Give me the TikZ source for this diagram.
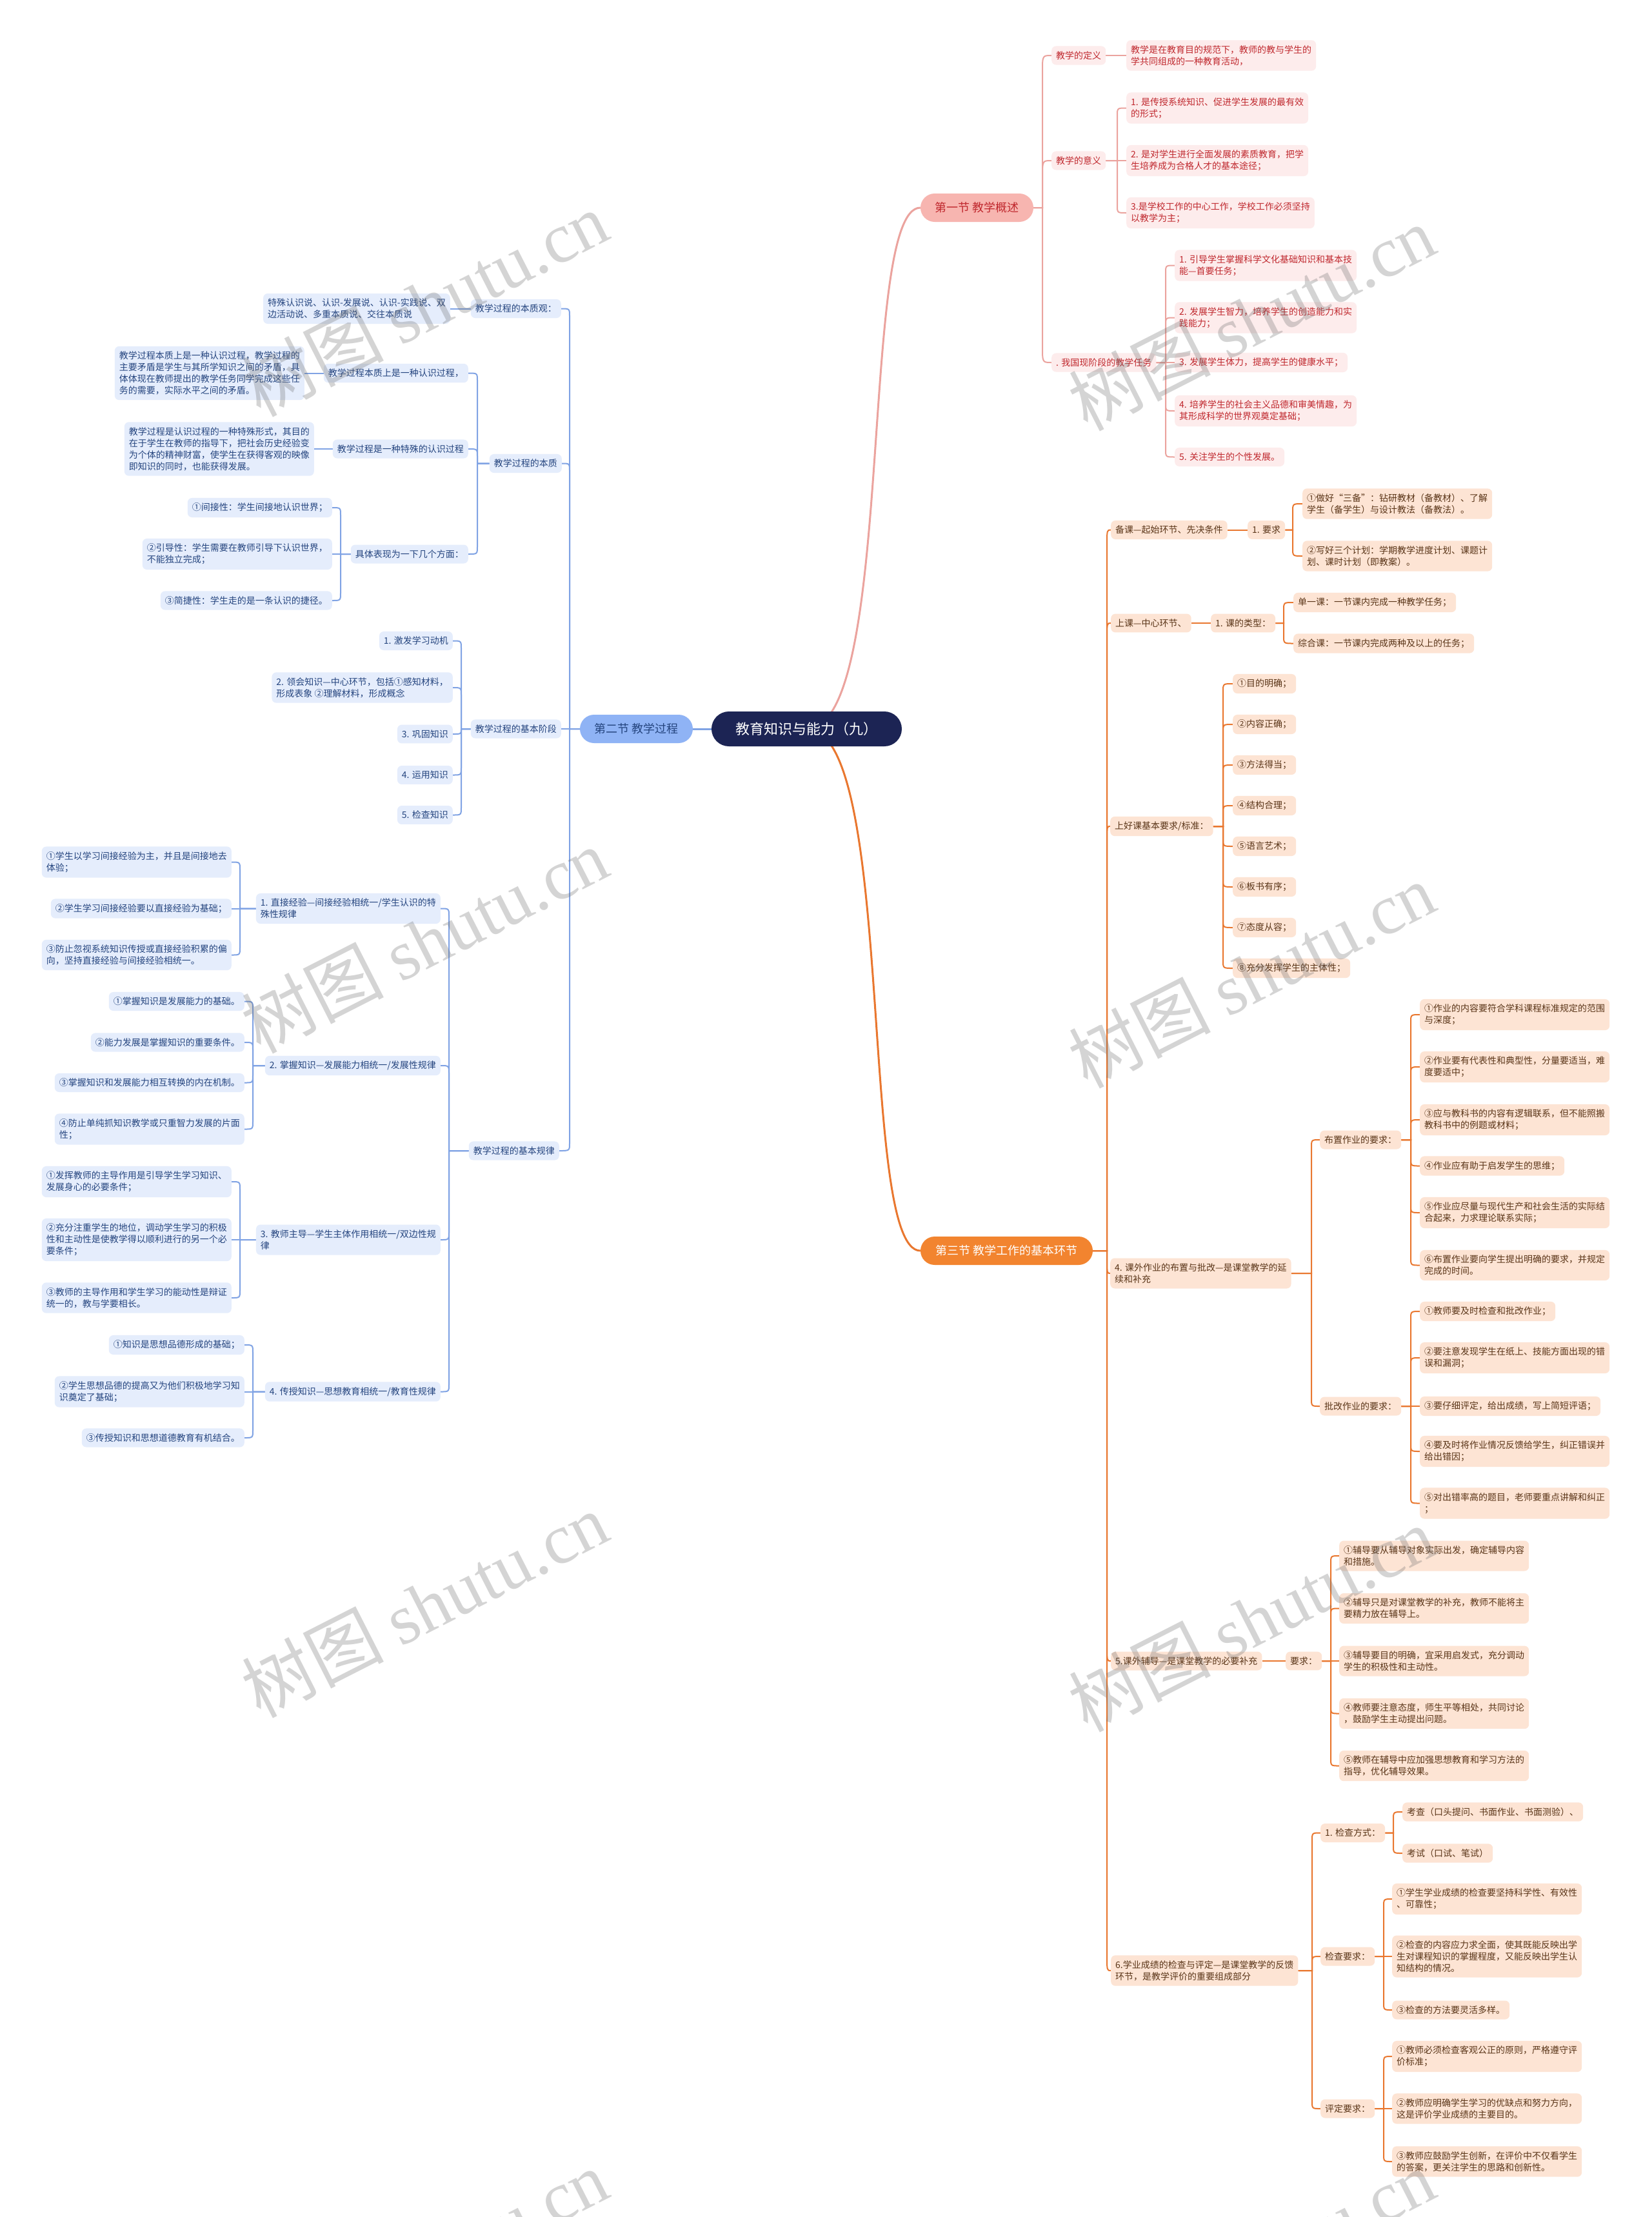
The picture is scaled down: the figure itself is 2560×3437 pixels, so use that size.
\documentclass[tikz,border=0pt]{standalone}
\usepackage{fontspec}
\setmainfont{Noto Sans CJK SC}
\newfontfamily\wmserif{Liberation Serif}
\usetikzlibrary{calc}
\pgfdeclarelayer{bg}
\pgfsetlayers{bg,main}
\definecolor{rfill}{HTML}{FDECEC}
\definecolor{rtext}{HTML}{C0282E}
\definecolor{rline}{HTML}{EBA39E}
\definecolor{ofill}{HTML}{FDE4D4}
\definecolor{otext}{HTML}{5A3518}
\definecolor{oline}{HTML}{E9772F}
\definecolor{bfill}{HTML}{E5EDFC}
\definecolor{btext}{HTML}{25457F}
\definecolor{bline}{HTML}{80A3E4}
\definecolor{rootfill}{HTML}{1C2454}
\definecolor{sAfill}{HTML}{F7B5B0}
\definecolor{sBfill}{HTML}{8FB3F5}
\definecolor{sCfill}{HTML}{F2842F}
% right-side connector: style, parent, bracket coordinate, child, radius
\newcommand\RC[5]{\draw[#1] let \p1=(#2.east), \p2=(#4.west), \p3=(#3), \n1={min(#5,abs(\y2-\y1))*sign(\y2-\y1)} in (\p1) -- (\x3,\y1) -- (\x3,{\y2-\n1}) .. controls (\x3,\y2) .. (\p2);}
% left-side connector
\newcommand\LC[5]{\draw[#1] let \p1=(#2.west), \p2=(#4.east), \p3=(#3), \n1={min(#5,abs(\y2-\y1))*sign(\y2-\y1)} in (\p1) -- (\x3,\y1) -- (\x3,{\y2-\n1}) .. controls (\x3,\y2) .. (\p2);}
\begin{document}
\begin{tikzpicture}[x=1pt,y=-1pt,
  basebox/.style={rectangle, rounded corners=7pt, inner xsep=7pt, inner ysep=8pt, align=left, font=\fontsize{14}{18}\selectfont},
  rbox/.style={basebox, fill=rfill, text=rtext, anchor=west},
  obox/.style={basebox, fill=ofill, text=otext, anchor=west},
  bbox/.style={basebox, fill=bfill, text=btext, anchor=east},
  secnode/.style={rectangle, rounded corners=22pt, minimum height=44pt, inner xsep=6pt, font=\fontsize{18}{22}\selectfont},
  rootnode/.style={rectangle, rounded corners=27pt, minimum height=54pt, minimum width=295pt, fill=rootfill, text=white, font=\fontsize{22}{26}\selectfont},
  redcon/.style={draw=rline, line width=2pt},
  orcon/.style={draw=oline, line width=2pt},
  blcon/.style={draw=bline, line width=2pt},
  wmark/.style={rotate=27, text=black!60, opacity=0.28, font=\fontsize{110}{110}\selectfont}
]
\useasboundingbox (0,0) rectangle (2560,3437);

% ---------- root and sections ----------
\node[rootnode] (root) at (1250.5,1130) {教育知识与能力（九）};
\node[secnode, fill=sAfill, text=rtext, minimum width=175pt] (s1) at (1514.5,322) {第一节 教学概述};
\node[secnode, fill=sBfill, text=btext, minimum width=175pt] (s2) at (986.5,1130) {第二节 教学过程};
\node[secnode, fill=sCfill, text=white, minimum width=267pt] (s3) at (1560.5,1939) {第三节 教学工作的基本环节};

% ---------- section 1 ----------
\node[rbox] (s1def) at (1630,86) {教学的定义};
\node[rbox] (s1deft) at (1746,86) {教学是在教育目的规范下，教师的教与学生的\\学共同组成的一种教育活动，};
\node[rbox] (s1yy) at (1630,249) {教学的意义};
\node[rbox] (s1y1) at (1746,167.5) {1. 是传授系统知识、促进学生发展的最有效\\的形式；};
\node[rbox] (s1y2) at (1746,249) {2. 是对学生进行全面发展的素质教育，把学\\生培养成为合格人才的基本途径；};
\node[rbox] (s1y3) at (1746,330) {3.是学校工作的中心工作，学校工作必须坚持\\以教学为主；};
\node[rbox] (s1rw) at (1630,562) {. 我国现阶段的教学任务};
\node[rbox] (s1t1) at (1821,411.5) {1. 引导学生掌握科学文化基础知识和基本技\\能—首要任务；};
\node[rbox] (s1t2) at (1821,492.5) {2. 发展学生智力，培养学生的创造能力和实\\践能力；};
\node[rbox] (s1t3) at (1821,562) {3. 发展学生体力，提高学生的健康水平；};
\node[rbox] (s1t4) at (1821,637) {4. 培养学生的社会主义品德和审美情趣，为\\其形成科学的世界观奠定基础；};
\node[rbox] (s1t5) at (1821,708.5) {5. 关注学生的个性发展。};

% ---------- section 3 ----------
\node[obox] (bk) at (1722,821.5) {备课—起始环节、先决条件};
\node[obox] (bk1) at (1934,821.5) {1. 要求};
\node[obox] (bk1a) at (2019,781) {①做好“三备”：钻研教材（备教材）、了解\\学生（备学生）与设计教法（备教法）。};
\node[obox] (bk1b) at (2019,862) {②写好三个计划：学期教学进度计划、课题计\\划、课时计划（即教案）。};
\node[obox] (sk) at (1722,966) {上课—中心环节、};
\node[obox] (sk1) at (1877,966) {1. 课的类型：};
\node[obox] (sk1a) at (2005,934) {单一课：一节课内完成一种教学任务；};
\node[obox] (sk1b) at (2005,997.5) {综合课：一节课内完成两种及以上的任务；};
\node[obox] (hk) at (1721,1281) {上好课基本要求/标准：};
\node[obox] (hk1) at (1911,1060) {①目的明确；};
\node[obox] (hk2) at (1911,1123) {②内容正确；};
\node[obox] (hk3) at (1911,1186) {③方法得当；};
\node[obox] (hk4) at (1911,1249) {④结构合理；};
\node[obox] (hk5) at (1911,1312) {⑤语言艺术；};
\node[obox] (hk6) at (1911,1375) {⑥板书有序；};
\node[obox] (hk7) at (1911,1438) {⑦态度从容；};
\node[obox] (hk8) at (1911,1501) {⑧充分发挥学生的主体性；};
\node[obox] (zy) at (1721,1974) {4. 课外作业的布置与批改—是课堂教学的延\\续和补充};
\node[obox] (bz) at (2046,1767) {布置作业的要求：};
\node[obox] (bz1) at (2201,1573) {①作业的内容要符合学科课程标准规定的范围\\与深度；};
\node[obox] (bz2) at (2201,1654) {②作业要有代表性和典型性，分量要适当，难\\度要适中；};
\node[obox] (bz3) at (2201,1736) {③应与教科书的内容有逻辑联系，但不能照搬\\教科书中的例题或材料；};
\node[obox] (bz4) at (2201,1807.5) {④作业应有助于启发学生的思维；};
\node[obox] (bz5) at (2201,1880) {⑤作业应尽量与现代生产和社会生活的实际结\\合起来，力求理论联系实际；};
\node[obox] (bz6) at (2201,1961.5) {⑥布置作业要向学生提出明确的要求，并规定\\完成的时间。};
\node[obox] (pg) at (2046,2180) {批改作业的要求：};
\node[obox] (pg1) at (2201,2033) {①教师要及时检查和批改作业；};
\node[obox] (pg2) at (2201,2105) {②要注意发现学生在纸上、技能方面出现的错\\误和漏洞；};
\node[obox] (pg3) at (2201,2180) {③要仔细评定，给出成绩，写上简短评语；};
\node[obox] (pg4) at (2201,2250) {④要及时将作业情况反馈给学生，纠正错误并\\给出错因；};
\node[obox] (pg5) at (2201,2330.5) {⑤对出错率高的题目，老师要重点讲解和纠正\\；};
\node[obox] (fd) at (1722,2575) {5.课外辅导—是课堂教学的必要补充};
\node[obox] (fdr) at (1993,2575) {要求：};
\node[obox] (fd1) at (2076,2412) {①辅导要从辅导对象实际出发，确定辅导内容\\和措施。};
\node[obox] (fd2) at (2076,2493.5) {②辅导只是对课堂教学的补充，教师不能将主\\要精力放在辅导上。};
\node[obox] (fd3) at (2076,2575) {③辅导要目的明确，宜采用启发式，充分调动\\学生的积极性和主动性。};
\node[obox] (fd4) at (2076,2656.5) {④教师要注意态度，师生平等相处，共同讨论\\，鼓励学生主动提出问题。};
\node[obox] (fd5) at (2076,2737.5) {⑤教师在辅导中应加强思想教育和学习方法的\\指导，优化辅导效果。};
\node[obox] (cj) at (1722,3055) {6.学业成绩的检查与评定—是课堂教学的反馈\\环节，是教学评价的重要组成部分};
\node[obox] (jcfs) at (2047,2841.5) {1. 检查方式：};
\node[obox] (jcfsa) at (2174,2809) {考查（口头提问、书面作业、书面测验）、};
\node[obox] (jcfsb) at (2174,2873) {考试（口试、笔试）};
\node[obox] (jcyq) at (2047,3033) {检查要求：};
\node[obox] (jcyqa) at (2158,2944) {①学生学业成绩的检查要坚持科学性、有效性\\、可靠性；};
\node[obox] (jcyqb) at (2158,3033) {②检查的内容应力求全面，使其既能反映出学\\生对课程知识的掌握程度，又能反映出学生认\\知结构的情况。};
\node[obox] (jcyqc) at (2158,3116) {③检查的方法要灵活多样。};
\node[obox] (pdyq) at (2047,3269) {评定要求：};
\node[obox] (pda) at (2158,3188) {①教师必须检查客观公正的原则，严格遵守评\\价标准；};
\node[obox] (pdb) at (2158,3269) {②教师应明确学生学习的优缺点和努力方向，\\这是评价学业成绩的主要目的。};
\node[obox] (pdc) at (2158,3351) {③教师应鼓励学生创新，在评价中不仅看学生\\的答案，更关注学生的思路和创新性。};

% ---------- section 2 ----------
\node[bbox] (bzg) at (870,478.5) {教学过程的本质观：};
\node[bbox] (bzga) at (698,478.5) {特殊认识说、认识-发展说、认识-实践说、双\\边活动说、多重本质说、交往本质说};
\node[bbox] (bzz) at (871,718.5) {教学过程的本质};
\node[bbox] (bzz1) at (726,578.5) {教学过程本质上是一种认识过程，};
\node[bbox] (bzz1t) at (472,578.5) {教学过程本质上是一种认识过程，教学过程的\\主要矛盾是学生与其所学知识之间的矛盾，具\\体体现在教师提出的教学任务同学完成这些任\\务的需要，实际水平之间的矛盾。};
\node[bbox] (bzz2) at (726,696) {教学过程是一种特殊的认识过程};
\node[bbox] (bzz2t) at (487,696) {教学过程是认识过程的一种特殊形式，其目的\\在于学生在教师的指导下，把社会历史经验变\\为个体的精神财富，使学生在获得客观的映像\\即知识的同时，也能获得发展。};
\node[bbox] (bzz3) at (726,859) {具体表现为一下几个方面：};
\node[bbox] (bzz3a) at (515,787) {①间接性：学生间接地认识世界；};
\node[bbox] (bzz3b) at (515,859) {②引导性：学生需要在教师引导下认识世界，\\不能独立完成；};
\node[bbox] (bzz3c) at (515,931) {③简捷性：学生走的是一条认识的捷径。};
\node[bbox] (jd) at (870,1130) {教学过程的基本阶段};
\node[bbox] (jd1) at (702,993.5) {1. 激发学习动机};
\node[bbox] (jd2) at (702,1066) {2. 领会知识—中心环节，包括①感知材料，\\形成表象 ②理解材料，形成概念};
\node[bbox] (jd3) at (702,1138) {3. 巩固知识};
\node[bbox] (jd4) at (702,1201.5) {4. 运用知识};
\node[bbox] (jd5) at (702,1263.5) {5. 检查知识};
\node[bbox] (gl) at (867,1784) {教学过程的基本规律};
\node[bbox] (ra) at (683,1408.5) {1. 直接经验—间接经验相统一/学生认识的特\\殊性规律};
\node[bbox] (raa) at (359,1336.5) {①学生以学习间接经验为主，并且是间接地去\\体验；};
\node[bbox] (rab) at (359,1408.5) {②学生学习间接经验要以直接经验为基础；};
\node[bbox] (rac) at (359,1480.5) {③防止忽视系统知识传授或直接经验积累的偏\\向，坚持直接经验与间接经验相统一。};
\node[bbox] (rb) at (683,1652) {2. 掌握知识—发展能力相统一/发展性规律};
\node[bbox] (rba) at (379,1552.5) {①掌握知识是发展能力的基础。};
\node[bbox] (rbb) at (379,1616) {②能力发展是掌握知识的重要条件。};
\node[bbox] (rbc) at (379,1678.5) {③掌握知识和发展能力相互转换的内在机制。};
\node[bbox] (rbd) at (379,1750.5) {④防止单纯抓知识教学或只重智力发展的片面\\性；};
\node[bbox] (rc) at (683,1922) {3. 教师主导—学生主体作用相统一/双边性规\\律};
\node[bbox] (rca) at (359,1832) {①发挥教师的主导作用是引导学生学习知识、\\发展身心的必要条件；};
\node[bbox] (rcb) at (359,1922) {②充分注重学生的地位，调动学生学习的积极\\性和主动性是使教学得以顺利进行的另一个必\\要条件；};
\node[bbox] (rcc) at (359,2012) {③教师的主导作用和学生学习的能动性是辩证\\统一的，教与学要相长。};
\node[bbox] (rd) at (683,2157.5) {4. 传授知识—思想教育相统一/教育性规律};
\node[bbox] (rda) at (379,2085) {①知识是思想品德形成的基础；};
\node[bbox] (rdb) at (379,2157.5) {②学生思想品德的提高又为他们积极地学习知\\识奠定了基础；};
\node[bbox] (rdc) at (379,2229) {③传授知识和思想道德教育有机结合。};

% bracket coordinates
\coordinate (B1) at (1616,0); \coordinate (B2) at (1732,0); \coordinate (B3) at (1807,0);
\coordinate (C0) at (1716,0); \coordinate (C1) at (2004,0); \coordinate (C2) at (1990,0);
\coordinate (C3) at (1896,0); \coordinate (C4) at (2033,0); \coordinate (C5) at (2187,0);
\coordinate (C6) at (2063,0); \coordinate (C7) at (2034,0); \coordinate (C8) at (2160,0);
\coordinate (C9) at (2145,0);
\coordinate (D0) at (883,0); \coordinate (D1) at (740,0); \coordinate (D2) at (528,0);
\coordinate (D3) at (715,0); \coordinate (D4) at (696,0); \coordinate (D5) at (372,0);
\coordinate (D6) at (392,0);

% ---------- watermarks ----------
\foreach \wx/\wy [count=\i] in {658/471, 1940/493, 658/1458, 1940/1512, 658/2488, 1940/2510, 658/3507, 1940/3507}
  \node[wmark] (wm\i) at (\wx,\wy) {树图 {\wmserif shutu.cn}};

% ---------- connectors ----------
\begin{pgfonlayer}{bg}
\fill[white] (0,0) rectangle (2560,3437);
% root to sections
\draw[draw=rline, line width=3pt] (root.center) .. controls (1390,1130) and (1330,322) .. (s1.west);
\draw[draw=oline, line width=3pt] (root.center) .. controls (1390,1130) and (1330,1939) .. (s3.west);
\draw[draw=bline, line width=3pt] (root.west) -- (s2.east);
% section 1
\RC{redcon}{s1}{B1}{s1def}{25}
\RC{redcon}{s1}{B1}{s1yy}{25}
\RC{redcon}{s1}{B1}{s1rw}{25}
\draw[redcon] (s1def.east) -- (s1deft.west);
\RC{redcon}{s1yy}{B2}{s1y1}{12}
\RC{redcon}{s1yy}{B2}{s1y2}{12}
\RC{redcon}{s1yy}{B2}{s1y3}{12}
\RC{redcon}{s1rw}{B3}{s1t1}{12}
\RC{redcon}{s1rw}{B3}{s1t2}{12}
\RC{redcon}{s1rw}{B3}{s1t3}{12}
\RC{redcon}{s1rw}{B3}{s1t4}{12}
\RC{redcon}{s1rw}{B3}{s1t5}{12}
% section 3
\foreach \c in {bk,sk,hk,zy,fd,cj} {\RC{orcon}{s3}{C0}{\c}{25}}
\draw[orcon] (bk.east) -- (bk1.west);
\RC{orcon}{bk1}{C1}{bk1a}{12}
\RC{orcon}{bk1}{C1}{bk1b}{12}
\draw[orcon] (sk.east) -- (sk1.west);
\RC{orcon}{sk1}{C2}{sk1a}{12}
\RC{orcon}{sk1}{C2}{sk1b}{12}
\foreach \c in {hk1,hk2,hk3,hk4,hk5,hk6,hk7,hk8} {\RC{orcon}{hk}{C3}{\c}{12}}
\RC{orcon}{zy}{C4}{bz}{12}
\RC{orcon}{zy}{C4}{pg}{12}
\foreach \c in {bz1,bz2,bz3,bz4,bz5,bz6} {\RC{orcon}{bz}{C5}{\c}{12}}
\foreach \c in {pg1,pg2,pg3,pg4,pg5} {\RC{orcon}{pg}{C5}{\c}{12}}
\draw[orcon] (fd.east) -- (fdr.west);
\foreach \c in {fd1,fd2,fd3,fd4,fd5} {\RC{orcon}{fdr}{C6}{\c}{12}}
\foreach \c in {jcfs,jcyq,pdyq} {\RC{orcon}{cj}{C7}{\c}{12}}
\RC{orcon}{jcfs}{C8}{jcfsa}{12}
\RC{orcon}{jcfs}{C8}{jcfsb}{12}
\foreach \c in {jcyqa,jcyqb,jcyqc} {\RC{orcon}{jcyq}{C9}{\c}{12}}
\foreach \c in {pda,pdb,pdc} {\RC{orcon}{pdyq}{C9}{\c}{12}}
% section 2
\foreach \c in {bzg,bzz,jd,gl} {\LC{blcon}{s2}{D0}{\c}{12}}
\draw[blcon] (bzg.west) -- (bzga.east);
\foreach \c in {bzz1,bzz2,bzz3} {\LC{blcon}{bzz}{D1}{\c}{12}}
\draw[blcon] (bzz1.west) -- (bzz1t.east);
\draw[blcon] (bzz2.west) -- (bzz2t.east);
\foreach \c in {bzz3a,bzz3b,bzz3c} {\LC{blcon}{bzz3}{D2}{\c}{12}}
\foreach \c in {jd1,jd2,jd3,jd4,jd5} {\LC{blcon}{jd}{D3}{\c}{12}}
\foreach \c in {ra,rb,rc,rd} {\LC{blcon}{gl}{D4}{\c}{12}}
\foreach \c in {raa,rab,rac} {\LC{blcon}{ra}{D5}{\c}{12}}
\foreach \c in {rba,rbb,rbc,rbd} {\LC{blcon}{rb}{D6}{\c}{12}}
\foreach \c in {rca,rcb,rcc} {\LC{blcon}{rc}{D5}{\c}{12}}
\foreach \c in {rda,rdb,rdc} {\LC{blcon}{rd}{D6}{\c}{12}}
\end{pgfonlayer}
\end{tikzpicture}
\end{document}
